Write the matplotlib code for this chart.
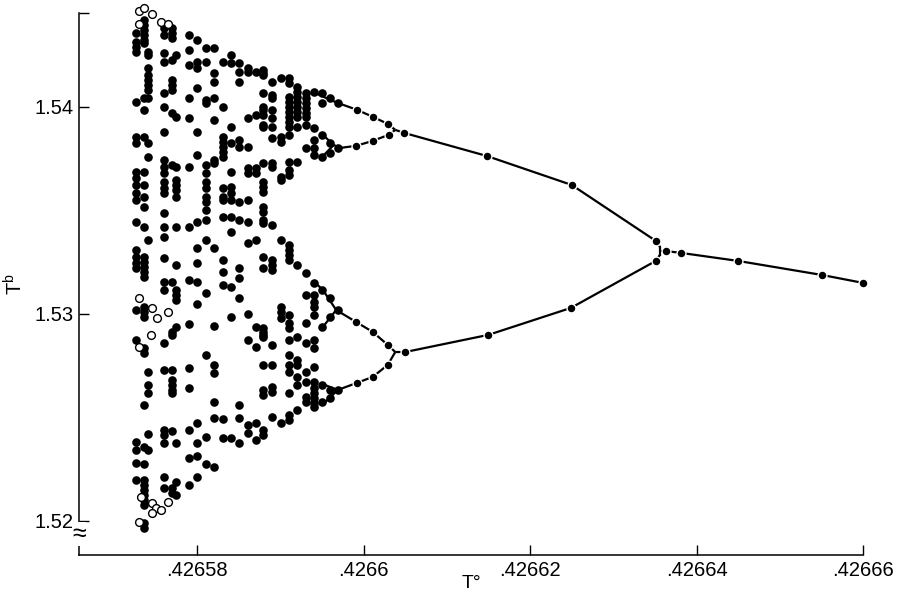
import matplotlib
matplotlib.use("Agg")
import matplotlib.pyplot as plt
import matplotlib.transforms as mtransforms

plt.rcParams['font.family'] = ['Liberation Sans', 'DejaVu Sans']
plt.rcParams['mathtext.fontset'] = 'custom'
plt.rcParams['mathtext.rm'] = 'Liberation Sans'
plt.rcParams['mathtext.default'] = 'regular'

# chaotic region: iterates collected in columns of equal T°
COL_T0 = [0.4265726, 0.4265736, 0.4265741, 0.4265760, 0.4265770, 0.4265775,
          0.4265790, 0.4265800, 0.4265811, 0.4265820, 0.4265831, 0.4265841,
          0.4265850, 0.4265861, 0.4265871, 0.4265879, 0.4265890, 0.4265901,
          0.4265910, 0.4265920, 0.4265931, 0.4265940, 0.4265950, 0.4265960,
          0.4265969]
COL_TB = [
    [1.54358, 1.54314, 1.54290, 1.54266, 1.54024, 1.53855, 1.53826, 1.53686, 1.53657, 1.53623, 1.53585, 1.53551,
     1.53444, 1.53309, 1.53275, 1.53246, 1.53222, 1.53019, 1.52874, 1.52382, 1.52343, 1.52280, 1.52198],
    [1.54420, 1.54396, 1.54372, 1.54348, 1.54324, 1.54309, 1.54044, 1.53986, 1.53855, 1.53686, 1.53623, 1.53565,
     1.53517, 1.53420, 1.53275, 1.53251, 1.53227, 1.53203, 1.53179, 1.53034, 1.53010, 1.52986, 1.52836, 1.52812,
     1.52560, 1.52357, 1.52275, 1.52198, 1.52174, 1.52150, 1.52126, 1.52101, 1.52077, 1.51990, 1.51966],
    [1.54266, 1.54251, 1.54188, 1.54155, 1.54130, 1.54106, 1.54082, 1.54044, 1.53826, 1.53758, 1.53358, 1.52720,
     1.52657, 1.52618, 1.52420, 1.52343],
    [1.54382, 1.54348, 1.54261, 1.54217, 1.54068, 1.54000, 1.53879, 1.53744, 1.53710, 1.53681, 1.53638, 1.53609,
     1.53585, 1.53488, 1.53420, 1.53372, 1.53271, 1.53155, 1.53116, 1.52860, 1.52729, 1.52440, 1.52415, 1.52377,
     1.52213, 1.52159],
    [1.54382, 1.54358, 1.54333, 1.54227, 1.54130, 1.54106, 1.54082, 1.53971, 1.53720, 1.53155, 1.52913, 1.52899,
     1.52729, 1.52681, 1.52657, 1.52633, 1.52618, 1.52435, 1.52159, 1.52135],
    [1.54251, 1.53952, 1.53710, 1.53647, 1.53623, 1.53599, 1.53565, 1.53420, 1.53237, 1.53116, 1.53092, 1.53068,
     1.52937, 1.52377, 1.52188, 1.52126],
    [1.54348, 1.54275, 1.54203, 1.54044, 1.53947, 1.53710, 1.53420, 1.53164, 1.52952, 1.52739, 1.52643, 1.52440,
     1.52304, 1.52174],
    [1.54324, 1.54217, 1.54188, 1.54092, 1.53879, 1.53768, 1.53444, 1.53319, 1.53246, 1.53155, 1.53048, 1.52473,
     1.52377, 1.52314, 1.52213],
    [1.54285, 1.54217, 1.54034, 1.54019, 1.53720, 1.53681, 1.53638, 1.53609, 1.53565, 1.53541, 1.53502, 1.53454,
     1.53358, 1.53101, 1.52802, 1.52406, 1.52275],
    [1.54285, 1.54164, 1.54121, 1.54044, 1.53937, 1.53744, 1.53730, 1.53319, 1.52942, 1.52754, 1.52715, 1.52575,
     1.52498, 1.52261],
    [1.54217, 1.54000, 1.53855, 1.53831, 1.53807, 1.53783, 1.53758, 1.53609, 1.53565, 1.53551, 1.53469, 1.53261,
     1.53203, 1.53140, 1.52493, 1.52401],
    [1.54251, 1.54213, 1.53903, 1.53826, 1.53686, 1.53614, 1.53585, 1.53551, 1.53469, 1.53396, 1.53130, 1.52986,
     1.52401],
    [1.54213, 1.54169, 1.54121, 1.53841, 1.53807, 1.53541, 1.53454, 1.53222, 1.53174, 1.53077, 1.52560, 1.52498,
     1.52377],
    [1.54188, 1.54169, 1.53947, 1.53807, 1.53705, 1.53681, 1.53551, 1.53444, 1.53343, 1.53000, 1.52874, 1.52464,
     1.52425],
    [1.54169, 1.53961, 1.53705, 1.53681, 1.53358, 1.52937, 1.52841, 1.52473, 1.52391],
    [1.54179, 1.54164, 1.54155, 1.54068, 1.54000, 1.53986, 1.53961, 1.53913, 1.53903, 1.53730, 1.53638, 1.53614,
     1.53589, 1.53517, 1.53493, 1.53454, 1.53440, 1.53275, 1.53222, 1.52932, 1.52913, 1.52899, 1.52889, 1.52754,
     1.52633, 1.52609, 1.52440, 1.52415],
    [1.54121, 1.54058, 1.54044, 1.53986, 1.53947, 1.53903, 1.53850, 1.53730, 1.53710, 1.53430, 1.53261, 1.53237,
     1.53213, 1.52850, 1.52754, 1.52647, 1.52623, 1.52502],
    [1.54140, 1.53855, 1.53831, 1.53662, 1.53647, 1.53358, 1.53034, 1.53010, 1.52981, 1.52473],
    [1.54140, 1.54116, 1.54048, 1.54024, 1.54000, 1.53976, 1.53952, 1.53928, 1.53903, 1.53865, 1.53734, 1.53696,
     1.53672, 1.53333, 1.53309, 1.53285, 1.53261, 1.52995, 1.52957, 1.52932, 1.52874, 1.52802, 1.52754, 1.52720,
     1.52618, 1.52512, 1.52488],
    [1.54097, 1.54072, 1.54048, 1.54024, 1.54000, 1.53976, 1.53952, 1.53903, 1.53734, 1.53237, 1.52889, 1.52778,
     1.52754, 1.52696, 1.52657, 1.52536],
    [1.54068, 1.54044, 1.54019, 1.53995, 1.53971, 1.53952, 1.53913, 1.53802, 1.53198, 1.53092, 1.52957, 1.52860,
     1.52720, 1.52672, 1.52599, 1.52575],
    [1.54072, 1.53899, 1.53841, 1.53802, 1.53768, 1.53150, 1.53092, 1.53058, 1.53034, 1.52995, 1.52874, 1.52836,
     1.52744, 1.52672, 1.52643, 1.52618, 1.52594, 1.52570, 1.52551],
    [1.54068, 1.54019, 1.53865, 1.53758, 1.53116, 1.52937, 1.52657, 1.52575],
    [1.54044, 1.53826, 1.53778, 1.53077, 1.52986, 1.52633, 1.52594],
    [1.54019, 1.53802, 1.53019, 1.52633],
]

# open circles
OPEN_T0 = [0.4265730, 0.4265736, 0.4265746, 0.4265756, 0.4265765, 0.4265730,
           0.4265730, 0.4265746, 0.4265765, 0.4265752, 0.4265744, 0.4265730,
           0.4265732, 0.4265746, 0.4265750, 0.4265756, 0.4265746, 0.4265765, 0.4265730]
OPEN_TB = [1.54464, 1.54478, 1.54449, 1.54411, 1.54401, 1.54401,
           1.53077, 1.53029, 1.53010, 1.52981, 1.52899, 1.52841,
           1.52116, 1.52087, 1.52063, 1.52053, 1.52039, 1.52092, 1.51995]

# points sitting on the period-4, period-2 and period-1 branches
BRANCH_T0 = [0.4265992, 0.4266011, 0.4266029, 0.4265991, 0.4266011, 0.4266030,
             0.4265991, 0.4266011, 0.4266029, 0.4265992, 0.4266011, 0.4266029,
             0.4266049, 0.4266148, 0.4266250, 0.4266351,
             0.4266050, 0.4266150, 0.4266249, 0.4266351,
             0.4266363, 0.4266381, 0.4266450, 0.4266551, 0.4266600]
BRANCH_TB = [1.53986, 1.53952, 1.53918, 1.53812, 1.53836, 1.53865,
             1.52961, 1.52913, 1.52850, 1.52667, 1.52696, 1.52754,
             1.53874, 1.53763, 1.53623, 1.53353,
             1.52816, 1.52899, 1.53029, 1.53256,
             1.53304, 1.53295, 1.53256, 1.53188, 1.53150]

# branch curves
P4_UP_A_T0 = [0.4265939, 0.4265960, 0.4265969, 0.4265992, 0.4266011, 0.4266029, 0.4266038]
P4_UP_A_TB = [1.54072, 1.54034, 1.54019, 1.53986, 1.53952, 1.53918, 1.53889]
P4_UP_B_T0 = [0.4265951, 0.4265964, 0.4265972, 0.4265991, 0.4266011, 0.4266030, 0.4266038]
P4_UP_B_TB = [1.53865, 1.53816, 1.53802, 1.53812, 1.53836, 1.53865, 1.53889]
P4_UP_FORK_T0 = [0.4265950, 0.4265964]
P4_UP_FORK_TB = [1.53758, 1.53816]
P4_LO_A_T0 = [0.4265942, 0.4265951, 0.4265967, 0.4265991, 0.4266011, 0.4266029, 0.4266038]
P4_LO_A_TB = [1.53150, 1.53116, 1.53019, 1.52961, 1.52913, 1.52850, 1.52816]
P4_LO_A_FORK_T0 = [0.4265951, 0.4265967]
P4_LO_A_FORK_TB = [1.52937, 1.53019]
P4_LO_B_T0 = [0.4265950, 0.4265969, 0.4265992, 0.4266011, 0.4266029, 0.4266038]
P4_LO_B_TB = [1.52662, 1.52633, 1.52667, 1.52696, 1.52754, 1.52816]
P4_LO_B_FORK_T0 = [0.4265954, 0.4265969]
P4_LO_B_FORK_TB = [1.52575, 1.52633]
P2_UP_T0 = [0.4266038, 0.4266049, 0.4266148, 0.4266250, 0.4266351, 0.4266356]
P2_UP_TB = [1.53889, 1.53874, 1.53763, 1.53623, 1.53353, 1.53324]
P2_LO_T0 = [0.4266038, 0.4266050, 0.4266150, 0.4266249, 0.4266351, 0.4266356]
P2_LO_TB = [1.52816, 1.52816, 1.52899, 1.53029, 1.53256, 1.53285]
BRACKET_T0 = [0.4266356, 0.4266356]
BRACKET_TB = [1.53330, 1.53280]
P1_T0 = [0.4266356, 0.4266363, 0.4266381, 0.4266450, 0.4266551, 0.4266600]
P1_TB = [1.53304, 1.53304, 1.53295, 1.53256, 1.53188, 1.53150]

XTICKS = [0.42658, 0.4266, 0.42662, 0.42664, 0.42666]
XTICK_LABELS = [".42658", ".4266", ".42662", ".42664", ".42666"]
YTICKS = [1.52, 1.53, 1.54]
YTICK_LABELS = ["1.52", "1.53", "1.54"]

fig = plt.figure(figsize=(8.98, 5.97), dpi=100)
ax = fig.add_axes([0.088, 0.0704, 0.873, 0.908])

curves = [(P4_UP_A_T0, P4_UP_A_TB), (P4_UP_B_T0, P4_UP_B_TB), (P4_UP_FORK_T0, P4_UP_FORK_TB),
          (P4_LO_A_T0, P4_LO_A_TB), (P4_LO_A_FORK_T0, P4_LO_A_FORK_TB),
          (P4_LO_B_T0, P4_LO_B_TB), (P4_LO_B_FORK_T0, P4_LO_B_FORK_TB),
          (P2_UP_T0, P2_UP_TB), (P2_LO_T0, P2_LO_TB), (BRACKET_T0, BRACKET_TB), (P1_T0, P1_TB)]
for t0, tb in curves:
    ax.plot(t0, tb, color='black', lw=1.6, zorder=2, solid_capstyle='butt')

for t0, tbs in zip(COL_T0, COL_TB):
    ax.plot([t0] * len(tbs), tbs, 'o', ms=6.2, color='black', mew=0, zorder=3, clip_on=False)

ax.plot(BRANCH_T0, BRANCH_TB, 'o', ms=6.4, mfc='black', mec='white', mew=1.0, zorder=4, clip_on=False)
ax.plot(OPEN_T0, OPEN_TB, 'o', ms=5.6, mfc='white', mec='black', mew=1.0, zorder=4, clip_on=False)

ax.set_xlim(0.4265658, 0.42666)
ax.set_ylim(1.518357, 1.544541)
ax.set_xticks(XTICKS)
ax.set_xticklabels(XTICK_LABELS)
ax.set_yticks(YTICKS)
ax.set_yticklabels(YTICK_LABELS)
ax.set_yticks([1.54452], minor=True)
ax.tick_params(which='both', direction='in', length=7, width=1.0, labelsize=14.5, pad=4)

for side in ['top', 'right']:
    ax.spines[side].set_visible(False)
for side in ['left', 'bottom']:
    ax.spines[side].set_linewidth(1.1)

# axis break mark on the T^b axis
trans = mtransforms.blended_transform_factory(ax.transAxes, ax.transData)
ax.text(0, 1.51935, "≈", transform=trans, ha='center', va='center', fontsize=18,
        bbox=dict(facecolor='white', edgecolor='none', pad=0))

ax.set_xlabel("T°", fontsize=14, labelpad=-3)
ax.set_ylabel("T$^{b}$", fontsize=14.5, labelpad=6)

fig.savefig("out.png", dpi=100)
